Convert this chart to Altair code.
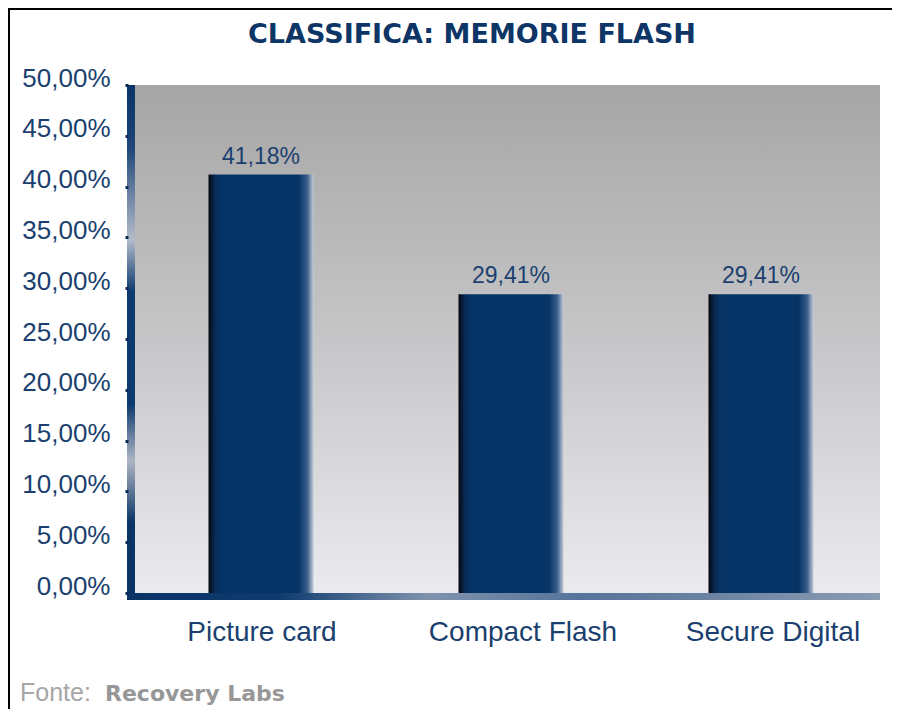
import altair as alt
import pandas as pd

categories = ["Picture card", "Compact Flash", "Secure Digital"]
values = [41.18, 29.41, 29.41]
y_ticks = [0, 5, 10, 15, 20, 25, 30, 35, 40, 45, 50]
title_text = "CLASSIFICA: MEMORIE FLASH"
source_label = "Fonte:"
source_name = "Recovery Labs"

W, H = 752, 508
NAVY = "#063466"
TEXT = "#1b3f6e"

df = pd.DataFrame({
    "cat": categories,
    "value": values,
    "label": [f"{v:.2f}".replace(".", ",") + "%" for v in values],
})
one = pd.DataFrame({"a": [0]})


def grad(stops, horizontal=False):
    return alt.LinearGradient(
        gradient="linear",
        stops=[alt.GradientStop(color=c, offset=o) for o, c in stops],
        x1=0, y1=0,
        x2=1 if horizontal else 0,
        y2=0 if horizontal else 1,
    )


background = alt.Chart(one).mark_rect(
    color=grad([(0, "#a6a6a6"), (0.5, "#c6c6c8"), (1, "#ebebef")])
).encode(x=alt.value(0), x2=alt.value(W), y=alt.value(0), y2=alt.value(H))

left_bar = alt.Chart(one).mark_rect(
    color=grad([
        (0, "#0a3366"), (0.12, "#1d4578"), (0.3, "#b4bccb"),
        (0.4, "#0d3a6e"), (0.62, "#0d3a6e"), (0.73, "#aeb6c4"),
        (0.85, "#0a3366"), (1, "#0a3366"),
    ])
).encode(x=alt.value(-1), x2=alt.value(7), y=alt.value(0), y2=alt.value(H + 7))

bottom_bar = alt.Chart(one).mark_rect(
    color=grad([
        (0, "#0a3366"), (0.2, "#0d3a6e"), (0.4, "#7f93ad"),
        (0.6, "#56739a"), (0.8, "#6f86a3"), (1, "#8a9cb2"),
    ], horizontal=True)
).encode(x=alt.value(-1), x2=alt.value(W), y=alt.value(H), y2=alt.value(H + 7))

x_enc = alt.X(
    "cat:N",
    sort=categories,
    scale=alt.Scale(range=[8, 758], paddingInner=0, paddingOuter=0),
    axis=alt.Axis(
        title=None, labelAngle=0, domain=False, ticks=False,
        labelFontSize=28, labelColor=TEXT, labelFont="Liberation Sans",
        labelPadding=25, labelLimit=0, labelOverlap=False,
        labelOffset={"condition": {"test": "datum.value === 'Picture card'", "value": 1}, "value": 12},
    ),
)
y_enc = alt.Y(
    "value:Q",
    scale=alt.Scale(domain=[0, 50], nice=False),
    axis=alt.Axis(
        title=None, values=y_ticks, domain=False, grid=False,
        labelExpr="replace(format(datum.value, '.2f'), '.', ',') + '%'",
        labelFontSize=26, labelColor=TEXT, labelFont="Liberation Sans",
        tickSize=3, tickWidth=3, tickColor="#0a2a55",
        labelPadding=15, labelOffset=-7, zindex=1, labelLimit=0,
    ),
)

bars = alt.Chart(df).mark_bar(
    size=105,
    color=grad([
        (0, "#04070d"), (0.06, "#0a2a55"), (0.12, NAVY), (0.86, NAVY),
        (0.94, "#3a5e8a"), (1, "#c4ccd8"),
    ], horizontal=True),
).encode(x=x_enc, y=y_enc)

labels = alt.Chart(df).mark_text(
    fontSize=23, color=TEXT, font="Liberation Sans", baseline="alphabetic", dy=-11
).encode(x=alt.X("cat:N", sort=categories), y="value:Q", text="label:N")

title = alt.Chart(one).mark_text(
    text=title_text, fontSize=27, fontWeight="bold", font="DejaVu Sans",
    color="#0d3566", align="center", baseline="middle",
).encode(x=alt.value(344), y=alt.value(-50))

src1 = alt.Chart(one).mark_text(
    text=source_label, fontSize=25, font="Liberation Sans", color="#a6a6a6",
    align="left", baseline="middle",
).encode(x=alt.value(-108), y=alt.value(608))

src2 = alt.Chart(one).mark_text(
    text=source_name, fontSize=22, fontWeight="bold", font="DejaVu Sans",
    color="#979797", align="left", baseline="middle",
).encode(x=alt.value(-23), y=alt.value(609))

frame_top = alt.Chart(one).mark_rule(color="black", strokeWidth=2).encode(
    x=alt.value(-120), x2=alt.value(W + 20), y=alt.value(-76)
)
frame_left = alt.Chart(one).mark_rule(color="black", strokeWidth=2).encode(
    x=alt.value(-119), y=alt.value(-77), y2=alt.value(H + 120)
)

chart = alt.layer(
    background, bars, left_bar, bottom_bar, labels, title, src1, src2,
    frame_top, frame_left,
).resolve_scale(x="shared", y="shared").properties(
    width=W, height=H,
    autosize=alt.AutoSizeParams(type="none"),
    padding={"left": 120, "top": 77, "right": 12, "bottom": 116},
    background="white",
).configure_view(stroke=None)

chart.save("out.html", embed_options={"renderer": "svg", "actions": False})
